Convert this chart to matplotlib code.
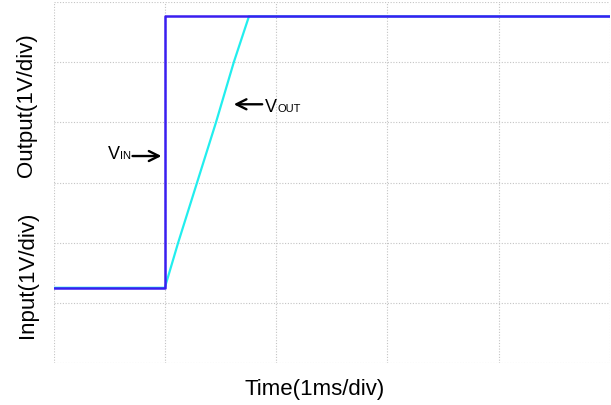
import matplotlib.pyplot as plt
import numpy as np

plt.rcParams['font.family'] = ['Liberation Sans', 'DejaVu Sans']

# scope traces, in divisions (x: 1ms/div, y: 1V/div)
vin_t = [0.0, 1.0, 1.0, 5.0]
vin_v = [1.25, 1.25, 5.76, 5.76]

vout_t = [0.0, 1.0, 1.12, 1.29, 1.46, 1.62, 1.756, 5.0]
vout_v = [1.25, 1.25, 2.0, 3.0, 4.0, 5.0, 5.76, 5.76]

n_xdiv = 5
n_ydiv = 6

fig = plt.figure(figsize=(6.11, 4.05), dpi=100)
ax = fig.add_axes([53.5 / 611, 42 / 405, 556.5 / 611, 361 / 405])

ax.set_xlim(0, n_xdiv)
ax.set_ylim(0, n_ydiv)
ax.set_xticks(np.arange(n_xdiv + 1))
ax.set_yticks(np.arange(n_ydiv + 1))
ax.tick_params(length=0, labelbottom=False, labelleft=False)
ax.grid(True, linestyle=(0, (1, 1.5)), color='#c4c4c4', linewidth=0.8)
for s in ax.spines.values():
    s.set_visible(False)

ax.plot(vout_t, vout_v, color='#22eeee', lw=1.6, zorder=3)
ax.plot(vin_t, vin_v, color='#3a1ef0', lw=1.8, zorder=4)

# channel labels with arrows
arrow = dict(arrowstyle='->', lw=1.7, color='black',
             mutation_scale=18, shrinkA=0, shrinkB=0)

ax.annotate('', xy=(0.97, 3.44), xytext=(0.71, 3.44), arrowprops=arrow)
ax.text(0.49, 3.39, 'V', fontsize=13, ha='left', va='baseline')
ax.text(0.597, 3.39, 'IN', fontsize=8, ha='left', va='baseline')

ax.annotate('', xy=(1.62, 4.30), xytext=(1.875, 4.30), arrowprops=arrow)
ax.text(1.90, 4.18, 'V', fontsize=13, ha='left', va='baseline')
ax.text(2.01, 4.18, 'OUT', fontsize=8, ha='left', va='baseline')

fig.text(315 / 611, 1 - 390 / 405, 'Time(1ms/div)', fontsize=16,
         ha='center', va='center')
fig.text(27 / 611, 1 - 105 / 405, 'Output(1V/div)', fontsize=16,
         ha='center', va='center', rotation=90)
fig.text(27 / 611, 1 - 275 / 405, 'Input(1V/div)', fontsize=16,
         ha='center', va='center', rotation=90)

fig.savefig('out.png', dpi=100)
